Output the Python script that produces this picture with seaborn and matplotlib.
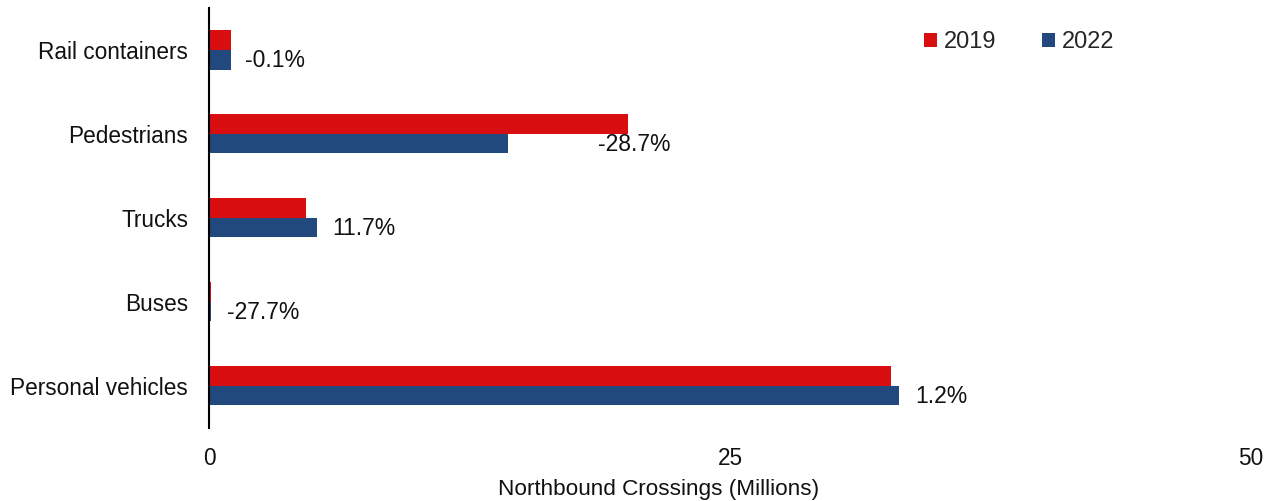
import matplotlib
matplotlib.use("Agg")
import matplotlib.pyplot as plt
import seaborn as sns
import pandas as pd

categories = ["Rail containers", "Pedestrians", "Trucks", "Buses", "Personal vehicles"]
values_2019 = [1.05, 20.1, 4.64, 0.10, 32.7]
values_2022 = [1.05, 14.35, 5.2, 0.08, 33.1]
change_labels = ["-0.1%", "-28.7%", "11.7%", "-27.7%", "1.2%"]
label_offsets = [0.7, 4.3, 0.7, 0.8, 0.8]
years = ["2019", "2022"]

df = pd.DataFrame({
    "category": categories * 2,
    "value": values_2019 + values_2022,
    "year": [years[0]] * len(categories) + [years[1]] * len(categories),
})

sns.set_style("white")
plt.rcParams["font.family"] = ["Liberation Sans", "DejaVu Sans"]

fig = plt.figure(figsize=(12.71, 5.01), dpi=100)
ax = fig.add_axes([0.1644, 0.146, 0.82, 0.838])

palette = {"2019": "#D90E10", "2022": "#21497D"}
sns.barplot(data=df, y="category", x="value", hue="year", orient="h",
            order=categories, hue_order=years, palette=palette,
            width=0.465, linewidth=0, saturation=1, ax=ax)

for i, (v, lab, off) in enumerate(zip(values_2022, change_labels, label_offsets)):
    ax.text(v + off, i + 0.13, lab, va="center", ha="left", fontsize=16.5, color="#111111")

ax.set_xlim(0, 50)
ax.set_ylim(4.5, -0.5)
ax.set_xticks([0, 25, 50])
ax.set_xticklabels(["0", "25", "50"])
ax.tick_params(axis="x", length=0, pad=14, labelsize=16.3, colors="#111111")
ax.tick_params(axis="y", length=0, pad=15, labelsize=16.3, colors="#111111")
ax.set_xlabel("Northbound Crossings (Millions)", fontsize=16.2, color="#111111")
ax.xaxis.set_label_coords(0.431, -0.122)
ax.set_ylabel("")

for s in ["top", "right", "bottom"]:
    ax.spines[s].set_visible(False)
ax.spines["left"].set_color("black")
ax.spines["left"].set_linewidth(1.5)

leg = ax.legend(loc="upper right", bbox_to_anchor=(0.889, 0.995), ncol=2, frameon=False,
                fontsize=17, handlelength=0.55, handleheight=0.55, handletextpad=0.3,
                columnspacing=1.9)

fig.savefig("out.png", dpi=100)
